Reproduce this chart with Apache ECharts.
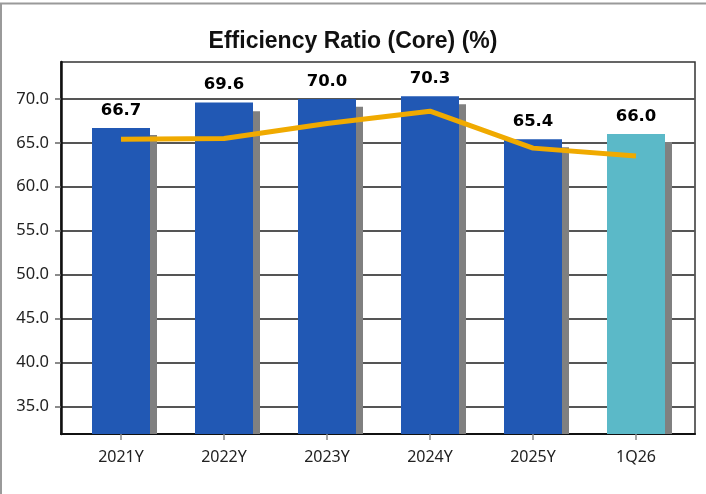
<!DOCTYPE html>
<html>
<head>
<meta charset="utf-8">
<script src="https://cdn.jsdelivr.net/npm/echarts@6/dist/echarts.min.js"></script>
<style>
  html, body { margin: 0; padding: 0; background: #fff; }
  #chart { width: 706px; height: 494px; }
</style>
</head>
<body>
<div id="chart"></div>
<script>
// chart data
const categories = ['2021Y', '2022Y', '2023Y', '2024Y', '2025Y', '1Q26'];
const ratioValues = [66.7, 69.6, 70.0, 70.3, 65.4, 66.0];
const shadowValues = [65.9, 68.6, 69.1, 69.4, 64.5, 65.1];
const lineValues = [65.4, 65.5, 67.2, 68.6, 64.4, 63.5];
const yTicks = [35, 40, 45, 50, 55, 60, 65, 70];

document.addEventListener('DOMContentLoaded', function() {
    const chart = echarts.init(document.getElementById('chart'));
    const yMin = 31.87;
    const yMax = 74.2;
    const plotTop = 62;
    const plotBottom = 60;

    const hiddenY = (gridIndex) => ({
        type: 'value', gridIndex: gridIndex, min: yMin, max: yMax, show: false,
        splitLine: { show: false }
    });
    const hiddenX = (gridIndex) => ({
        type: 'category', gridIndex: gridIndex, data: categories, show: false
    });

    const option = {
        animation: false,
        backgroundColor: '#fff',
        title: {
            text: 'Efficiency Ratio (Core) (%)',
            left: 'center',
            top: 25,
            textStyle: {
                fontFamily: 'Liberation Sans',
                fontWeight: 'bold',
                fontSize: 23,
                color: '#111'
            }
        },
        graphic: [{
            type: 'polyline',
            shape: { points: [[1, 494], [1, 3.5], [706, 3.5]] },
            style: { stroke: '#9a9a9a', lineWidth: 2, fill: null },
            silent: true
        }],
        grid: [
            // frame, gridlines and y axis
            { left: 61, right: 11, top: plotTop, bottom: plotBottom, show: true, borderColor: '#333', borderWidth: 1.5 },
            // categories, blue bars, line
            { left: 69.5, right: 18.5, top: plotTop, bottom: plotBottom },
            // gray shadow bars
            { left: 76.5, right: 11.5, top: plotTop, bottom: plotBottom }
        ],
        xAxis: [
            {
                type: 'value', gridIndex: 0, min: 0, max: 1,
                axisLine: { show: true, onZero: false, lineStyle: { color: '#111', width: 2 } },
                axisTick: { show: false },
                axisLabel: { show: false },
                splitLine: { show: false }
            },
            {
                type: 'category', gridIndex: 1, data: categories,
                axisLine: { show: false },
                axisTick: { show: true, alignWithLabel: true, length: 6, lineStyle: { color: '#888', width: 1.5 } },
                axisLabel: {
                    margin: 15,
                    fontFamily: 'Noto Sans',
                    fontSize: 16,
                    color: '#222'
                }
            },
            hiddenX(2)
        ],
        yAxis: [
            {
                type: 'value', gridIndex: 0, min: yMin, max: yMax,
                minInterval: 5, maxInterval: 5,
                axisLine: { show: true, lineStyle: { color: '#111', width: 2.5 } },
                axisTick: { show: true, length: 6, customValues: yTicks, lineStyle: { color: '#666', width: 1.5 } },
                axisLabel: {
                    customValues: yTicks,
                    margin: 12,
                    fontFamily: 'Noto Sans',
                    fontSize: 16.5,
                    color: '#222',
                    formatter: v => v.toFixed(1)
                },
                splitLine: { show: true, lineStyle: { color: '#555', width: 2 } }
            },
            hiddenY(1),
            hiddenY(2)
        ],
        series: [
            {
                type: 'bar',
                xAxisIndex: 2, yAxisIndex: 2,
                data: shadowValues,
                barWidth: 58,
                itemStyle: { color: '#808080' },
                z: 2
            },
            {
                type: 'bar',
                xAxisIndex: 1, yAxisIndex: 1,
                data: ratioValues,
                barWidth: 58,
                itemStyle: {
                    color: p => p.dataIndex === categories.length - 1 ? '#5bb9c8' : '#2158b4'
                },
                label: {
                    show: true,
                    position: 'top',
                    distance: 9,
                    fontFamily: 'DejaVu Sans',
                    fontWeight: 'bold',
                    fontSize: 16.5,
                    color: '#000',
                    formatter: p => p.value.toFixed(1)
                },
                z: 3
            },
            {
                type: 'line',
                xAxisIndex: 1, yAxisIndex: 1,
                data: lineValues,
                symbol: 'none',
                lineStyle: { color: '#f0aa00', width: 5 },
                z: 4
            }
        ]
    };
    chart.setOption(option);
});
</script>
</body>
</html>
